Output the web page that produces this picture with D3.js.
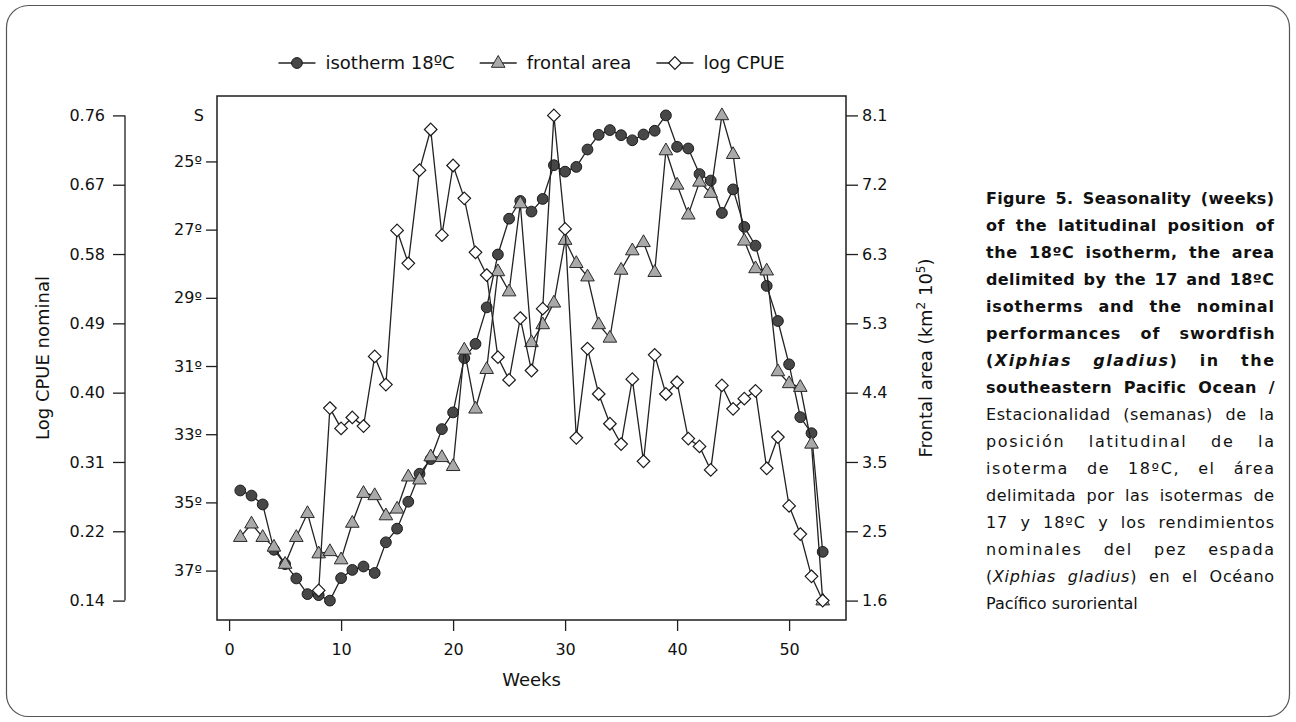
<!DOCTYPE html>
<html>
<head>
<meta charset="utf-8">
<script src="https://cdn.jsdelivr.net/npm/d3@7"></script>
<style>
  body { margin: 0; background: #fff; }
  svg { display: block; font-family: "DejaVu Sans", sans-serif; }
</style>
</head>
<body>
<div id="wrapper"></div>
<script>
// weeks of the year
const weeks = [1,2,3,4,5,6,7,8,9,10,11,12,13,14,15,16,17,18,19,20,21,22,23,24,25,26,27,
  28,29,30,31,32,33,34,35,36,37,38,39,40,41,42,43,44,45,46,47,48,49,50,51,52,53];

// latitude (degrees S) of the 18ºC isotherm
const isotherm = [34.65,34.80,35.06,36.39,36.81,37.23,37.69,37.72,37.88,37.22,36.98,36.88,37.07,
  36.17,35.77,34.98,34.16,33.73,32.85,32.36,30.77,30.35,29.28,27.73,26.68,26.16,26.47,26.10,
  25.11,25.30,25.16,24.65,24.22,24.08,24.23,24.38,24.21,24.10,23.65,24.57,24.62,25.37,25.56,
  26.51,25.82,26.92,27.47,28.65,29.68,30.95,32.50,32.97,36.45];

// frontal area (km2 10^5)
const frontalArea = [2.45,2.63,2.45,2.32,2.09,2.45,2.77,2.23,2.26,2.15,2.64,3.04,3.01,2.74,
  2.83,3.26,3.22,3.53,3.52,3.40,4.96,4.17,4.70,6.01,5.74,6.92,5.06,5.30,5.59,6.43,6.12,5.94,
  5.30,5.12,6.03,6.29,6.40,6.00,7.63,7.17,6.77,7.21,7.06,8.10,7.58,6.42,6.05,6.02,4.67,4.51,
  4.46,3.70,1.60];

// log CPUE nominal (no data before week 8)
const logCpue = [null,null,null,null,null,null,null,0.153,0.386,0.360,0.374,0.363,0.452,0.416,
  0.613,0.571,0.690,0.742,0.607,0.696,0.654,0.585,0.556,0.451,0.422,0.501,0.434,0.513,0.760,
  0.615,0.348,0.462,0.404,0.366,0.340,0.423,0.318,0.454,0.404,0.419,0.347,0.337,0.307,0.415,
  0.385,0.398,0.408,0.309,0.349,0.261,0.225,0.171,0.140];

const weekTicks = [0,10,20,30,40,50];
const latTicks = [25,27,29,31,33,35,37];
const cpueTickLabels = ["0.14","0.22","0.31","0.40","0.49","0.58","0.67","0.76"];
const areaTickLabels = ["1.6","2.5","3.5","4.4","5.3","6.3","7.2","8.1"];

const legendLabels = ["isotherm 18ºC", "frontal area", "log CPUE"];

const captionLines = [
  [["Figure 5. Seasonality (weeks)", "b"]],
  [["of the latitudinal position of", "b"]],
  [["the 18ºC isotherm, the area", "b"]],
  [["delimited by the 17 and 18ºC", "b"]],
  [["isotherms and the nominal", "b"]],
  [["performances of swordfish", "b"]],
  [["(", "b"], ["Xiphias gladius", "bi"], [") in the", "b"]],
  [["southeastern Pacific Ocean /", "b"]],
  [["Estacionalidad (semanas) de la", ""]],
  [["posición latitudinal de la", ""]],
  [["isoterma de 18ºC, el área", ""]],
  [["delimitada por las isotermas de", ""]],
  [["17 y 18ºC y los rendimientos", ""]],
  [["nominales del pez espada", ""]],
  [["(", ""], ["Xiphias gladius", "i"], [") en el Océano", ""]],
  [["Pacífico suroriental", ""]]
];

const width = 1296, height = 722;
const frame = {left: 217, top: 96, right: 846, bottom: 620};
const ink = "#1e1e1e";

// R style: data range extended by 4% on each side
function padded(lo, hi) {
  const e = (hi - lo) * 0.04;
  return [lo - e, hi + e];
}

const svg = d3.select("#wrapper").append("svg")
  .attr("width", width)
  .attr("height", height);

svg.append("rect").attr("width", width).attr("height", height).attr("fill", "#fff");
svg.append("rect")
  .attr("x", 6.5).attr("y", 5.5)
  .attr("width", width - 13).attr("height", height - 11)
  .attr("rx", 22)
  .attr("fill", "none").attr("stroke", "#555").attr("stroke-width", 1.2);

const x = d3.scaleLinear()
  .domain(padded(d3.min(weeks), d3.max(weeks)))
  .range([frame.left, frame.right]);

const latExt = d3.extent(isotherm);
const yLat = d3.scaleLinear().domain(padded(latExt[0], latExt[1])).range([frame.top, frame.bottom]);

const cpueExt = d3.extent(logCpue);
const yCpue = d3.scaleLinear().domain(padded(cpueExt[0], cpueExt[1])).range([frame.bottom, frame.top]);

const areaExt = d3.extent(frontalArea);
const yArea = d3.scaleLinear().domain(padded(areaExt[0], areaExt[1])).range([frame.bottom, frame.top]);

// axis ticks are even divisions of the data range
const cpueTicks = cpueTickLabels.map((l, i) => cpueExt[0] + i * (cpueExt[1] - cpueExt[0]) / (cpueTickLabels.length - 1));
const areaTicks = areaTickLabels.map((l, i) => areaExt[0] + i * (areaExt[1] - areaExt[0]) / (areaTickLabels.length - 1));

function styleAxis(g) {
  g.select(".domain").remove();
  g.selectAll(".tick line").attr("stroke", ink).attr("stroke-width", 1.3);
  g.selectAll(".tick text").attr("fill", "#111").attr("font-size", 16)
    .attr("font-family", "DejaVu Sans");
}

// x axis
svg.append("g")
  .attr("transform", `translate(0,${frame.bottom})`)
  .call(d3.axisBottom(x).tickValues(weekTicks).tickSize(11).tickPadding(13).tickFormat(d3.format("d")))
  .call(styleAxis);

// latitude axis on the frame
svg.append("g")
  .attr("transform", `translate(${frame.left},0)`)
  .call(d3.axisLeft(yLat).tickValues(latTicks).tickSize(11).tickPadding(4).tickFormat(d => d + "º"))
  .call(styleAxis);

svg.append("text")
  .attr("x", 204).attr("y", 115).attr("dy", "0.35em")
  .attr("text-anchor", "end").attr("font-size", 16).attr("fill", "#111")
  .text("S");

// log CPUE axis, detached on the far left
const cpueAxisX = 125;
const cpueAxis = svg.append("g")
  .attr("transform", `translate(${cpueAxisX},0)`)
  .call(d3.axisLeft(yCpue).tickValues(cpueTicks).tickSize(12).tickPadding(8)
    .tickFormat((d, i) => cpueTickLabels[i]))
  .call(styleAxis);
cpueAxis.append("line")
  .attr("y1", yCpue(cpueTicks[0])).attr("y2", yCpue(cpueTicks[cpueTicks.length - 1]))
  .attr("stroke", ink).attr("stroke-width", 1.3);

// frontal area axis on the right side of the frame
svg.append("g")
  .attr("transform", `translate(${frame.right},0)`)
  .call(d3.axisRight(yArea).tickValues(areaTicks).tickSize(12).tickPadding(4)
    .tickFormat((d, i) => areaTickLabels[i]))
  .call(styleAxis);

// axis titles
svg.append("text")
  .attr("transform", `translate(43,${(yCpue(cpueTicks[0]) + yCpue(cpueTicks[7])) / 2}) rotate(-90)`)
  .attr("text-anchor", "middle").attr("dy", "0.35em")
  .attr("font-size", 18).attr("fill", "#111")
  .text("Log CPUE nominal");

const areaTitle = svg.append("text")
  .attr("transform", `translate(926,${(frame.top + frame.bottom) / 2}) rotate(-90)`)
  .attr("text-anchor", "middle").attr("dy", "0.35em")
  .attr("font-size", 18).attr("fill", "#111");
areaTitle.append("tspan").text("Frontal area (km");
areaTitle.append("tspan").attr("font-size", 12).attr("dy", -7).text("2");
areaTitle.append("tspan").attr("dy", 7).text(" 10");
areaTitle.append("tspan").attr("font-size", 12).attr("dy", -7).text("5");
areaTitle.append("tspan").attr("dy", 7).text(")");

svg.append("text")
  .attr("x", (frame.left + frame.right) / 2).attr("y", 680).attr("dy", "0.35em")
  .attr("text-anchor", "middle").attr("font-size", 18).attr("fill", "#111")
  .text("Weeks");

// plot frame
svg.append("rect")
  .attr("x", frame.left).attr("y", frame.top)
  .attr("width", frame.right - frame.left).attr("height", frame.bottom - frame.top)
  .attr("fill", "none").attr("stroke", ink).attr("stroke-width", 1.5);

// marker shapes
const markers = {
  circle: g => g.append("circle").attr("r", 5.4).attr("fill", "#474747").attr("stroke", "#1a1a1a").attr("stroke-width", 1),
  triangle: g => g.append("path").attr("d", "M0,-7.5L6.8,4.3L-6.8,4.3Z").attr("fill", "#a9a9a9").attr("stroke", "#2a2a2a").attr("stroke-width", 1),
  diamond: g => g.append("path").attr("d", "M0,-6.3L6.3,0L0,6.3L-6.3,0Z").attr("fill", "#fff").attr("stroke", "#1a1a1a").attr("stroke-width", 1.2)
};

const series = [
  {values: isotherm, y: yLat, marker: "circle"},
  {values: frontalArea, y: yArea, marker: "triangle"},
  {values: logCpue, y: yCpue, marker: "diamond"}
];

series.forEach(s => {
  const pts = weeks.map((w, i) => ({w, v: s.values[i]})).filter(d => d.v != null);
  const line = d3.line().x(d => x(d.w)).y(d => s.y(d.v));
  svg.append("path")
    .attr("d", line(pts))
    .attr("fill", "none").attr("stroke", "#222").attr("stroke-width", 1.3);
  svg.append("g").selectAll("g")
    .data(pts).join("g")
    .attr("transform", d => `translate(${x(d.w)},${s.y(d.v)})`)
    .each(function() { markers[s.marker](d3.select(this)); });
});

// legend
const legend = svg.append("g");
const legendY = 63, symLen = 37, symGap = 10, itemGap = 25;
let lx = 0;
legendLabels.forEach((label, i) => {
  const item = legend.append("g").attr("transform", `translate(${lx},${legendY})`);
  item.append("line").attr("x1", 0).attr("x2", symLen)
    .attr("stroke", "#222").attr("stroke-width", 1.3);
  const m = item.append("g").attr("transform", `translate(${symLen / 2},0)`);
  markers[series[i].marker](m);
  const t = item.append("text")
    .attr("x", symLen + symGap).attr("dy", "0.35em")
    .attr("font-size", 18).attr("fill", "#111")
    .text(label);
  lx += symLen + symGap + t.node().getComputedTextLength() + itemGap;
});
const legendW = lx - itemGap;
legend.attr("transform", `translate(${(frame.left + frame.right) / 2 - legendW / 2},0)`);

// caption, justified between two edges
const capLeft = 986, capRight = 1274, capTop = 204, capStep = 27, capSize = 16;
captionLines.forEach((segs, i) => {
  const t = svg.append("text")
    .attr("x", capLeft).attr("y", capTop + i * capStep)
    .attr("font-size", capSize).attr("fill", "#111");
  segs.forEach(([txt, st]) => {
    t.append("tspan")
      .attr("font-weight", st.includes("b") ? "bold" : "normal")
      .attr("font-style", st.includes("i") ? "italic" : "normal")
      .text(txt);
  });
  if (i === captionLines.length - 1) return;
  const full = segs.map(s => s[0]).join("");
  const natural = t.node().getComputedTextLength();
  const extra = capRight - capLeft - natural;
  const nSpaces = (full.match(/ /g) || []).length;
  const ls = extra * 0.45 / (full.length - 1);
  const ws = nSpaces ? extra * 0.55 / nSpaces : 0;
  t.attr("letter-spacing", ls).attr("word-spacing", ws);
});
</script>
</body>
</html>
